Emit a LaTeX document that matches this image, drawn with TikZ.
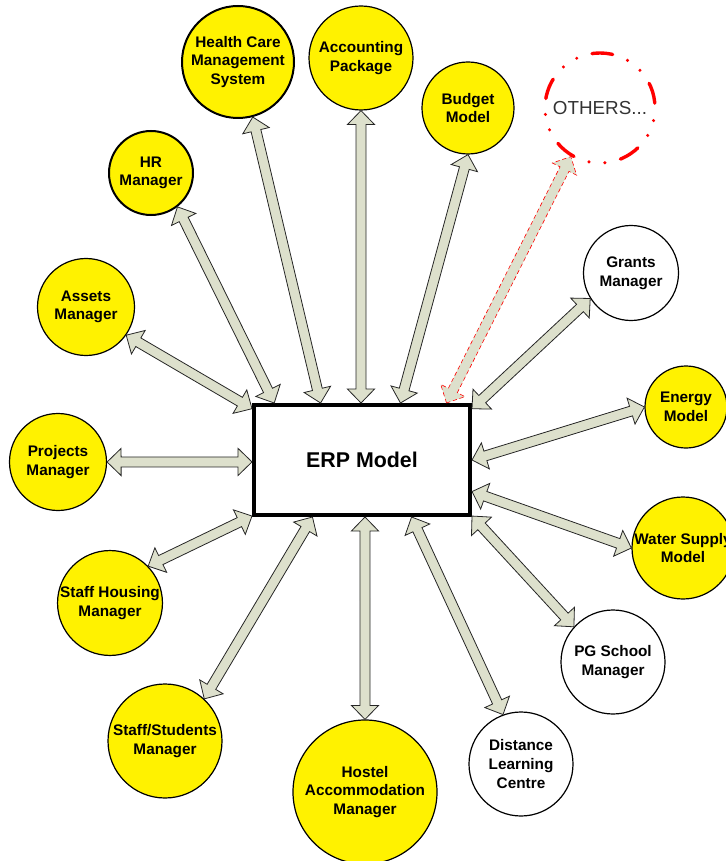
\documentclass[tikz,border=0pt]{standalone}
\usepackage{fontspec}
\setmainfont{Liberation Sans}
\usetikzlibrary{calc}

\definecolor{linkfill}{RGB}{221,224,204}
\definecolor{othergrey}{RGB}{51,51,51}

\tikzset{
  module/.style={circle,draw,fill=yellow,line width=0.3mm,inner sep=0pt,align=center,
    font=\bfseries\fontsize{10.9}{13.3}\selectfont},
  plain module/.style={module,fill=white},
  core/.style={rectangle,draw,line width=1mm,minimum width=54mm,minimum height=27.5mm,
    font=\bfseries\fontsize{15.2}{18}\selectfont},
  link/.style={draw=black!85,fill=linkfill,line width=0.2mm,line join=miter},
  future link/.style={draw=red,densely dashed,line width=0.15mm}
}

% double block arrow between two points
\newcommand{\linkarrow}[3][]{%
  \coordinate (la) at (#2);
  \coordinate (lb) at (#3);
  \coordinate (lah) at ($(la)!3.5mm!(lb)$);
  \coordinate (lbh) at ($(lb)!3.5mm!(la)$);
  \path[link,#1] (la) -- ($(lah)!3.4mm!90:(lb)$) -- ($(lah)!1.25mm!90:(lb)$)
    -- ($(lbh)!1.25mm!-90:(la)$) -- ($(lbh)!3.4mm!-90:(la)$) -- (lb)
    -- ($(lbh)!3.4mm!90:(la)$) -- ($(lbh)!1.25mm!90:(la)$)
    -- ($(lah)!1.25mm!-90:(lb)$) -- ($(lah)!3.4mm!-90:(lb)$) -- cycle;
}

\begin{document}
\begin{tikzpicture}[x=0.25mm,y=-0.25mm]
\useasboundingbox (0,0) rectangle (725,861);

\node[core] (erp) at (362,460) {ERP Model};

\node[module,line width=0.5mm,minimum size=28mm] (hcms) at (238,62) {Health Care\\Management\\System};
\node[module,minimum size=26mm] (acct) at (361,58) {Accounting\\Package};
\node[module,minimum size=23mm] (budget) at (468,108) {Budget\\Model};
\node[circle,draw=red,line width=0.85mm,line cap=round,minimum size=27.5mm,
  dash pattern=on 5.2mm off 4mm on 0mm off 4mm on 0mm off 4mm,dash phase=16mm,
  text=othergrey,font=\fontsize{13.4}{15}\selectfont] (others) at (600,108) {OTHERS...};
\node[module,line width=0.5mm,minimum size=21mm] (hr) at (151,173) {HR\\Manager};
\node[plain module,minimum size=23.75mm] (grants) at (631,273) {Grants\\Manager};
\node[module,minimum size=24.25mm] (assets) at (86,307) {Assets\\Manager};
\node[module,minimum size=20.5mm] (energy) at (686,407) {Energy\\Model};
\node[module,minimum size=24.25mm] (projects) at (58,462) {Projects\\Manager};
\node[module,minimum size=25.5mm] (water) at (683,548) {Water Supply\\Model};
\node[plain module,minimum size=26mm] (pg) at (613,662) {PG School\\Manager};
\node[module,minimum size=25.5mm] (housing) at (110,603) {Staff Housing\\Manager};
\node[module,minimum size=28.5mm] (students) at (165,741) {Staff/Students\\Manager};
\node[module,minimum size=36mm] (hostel) at (365,792) {Hostel\\Accommodation\\Manager};
\node[plain module,minimum size=26mm] (distance) at (521,764) {Distance\\Learning\\Centre};

\linkarrow{erp.126.4}{hcms.-75}
\linkarrow{erp.147.7}{hr.-52}
\linkarrow{erp.155.6}{assets.-35.7}
\linkarrow{erp.181}{projects.0}
\linkarrow{erp.91}{acct.-90}
\linkarrow{erp.56.3}{budget.-90}
\linkarrow[future link]{erp.34.5}{others.-121}
\linkarrow{erp.25.1}{grants.-148.6}
\linkarrow{erp.0}{energy.180}
\linkarrow{erp.-16.1}{water.180}
\linkarrow{erp.-27.4}{pg.138.2}
\linkarrow{erp.-49.2}{distance.110}
\linkarrow{erp.-87}{hostel.90}
\linkarrow{erp.-131.9}{students.47.2}
\linkarrow{erp.-153.4}{housing.44.2}
\end{tikzpicture}
\end{document}
